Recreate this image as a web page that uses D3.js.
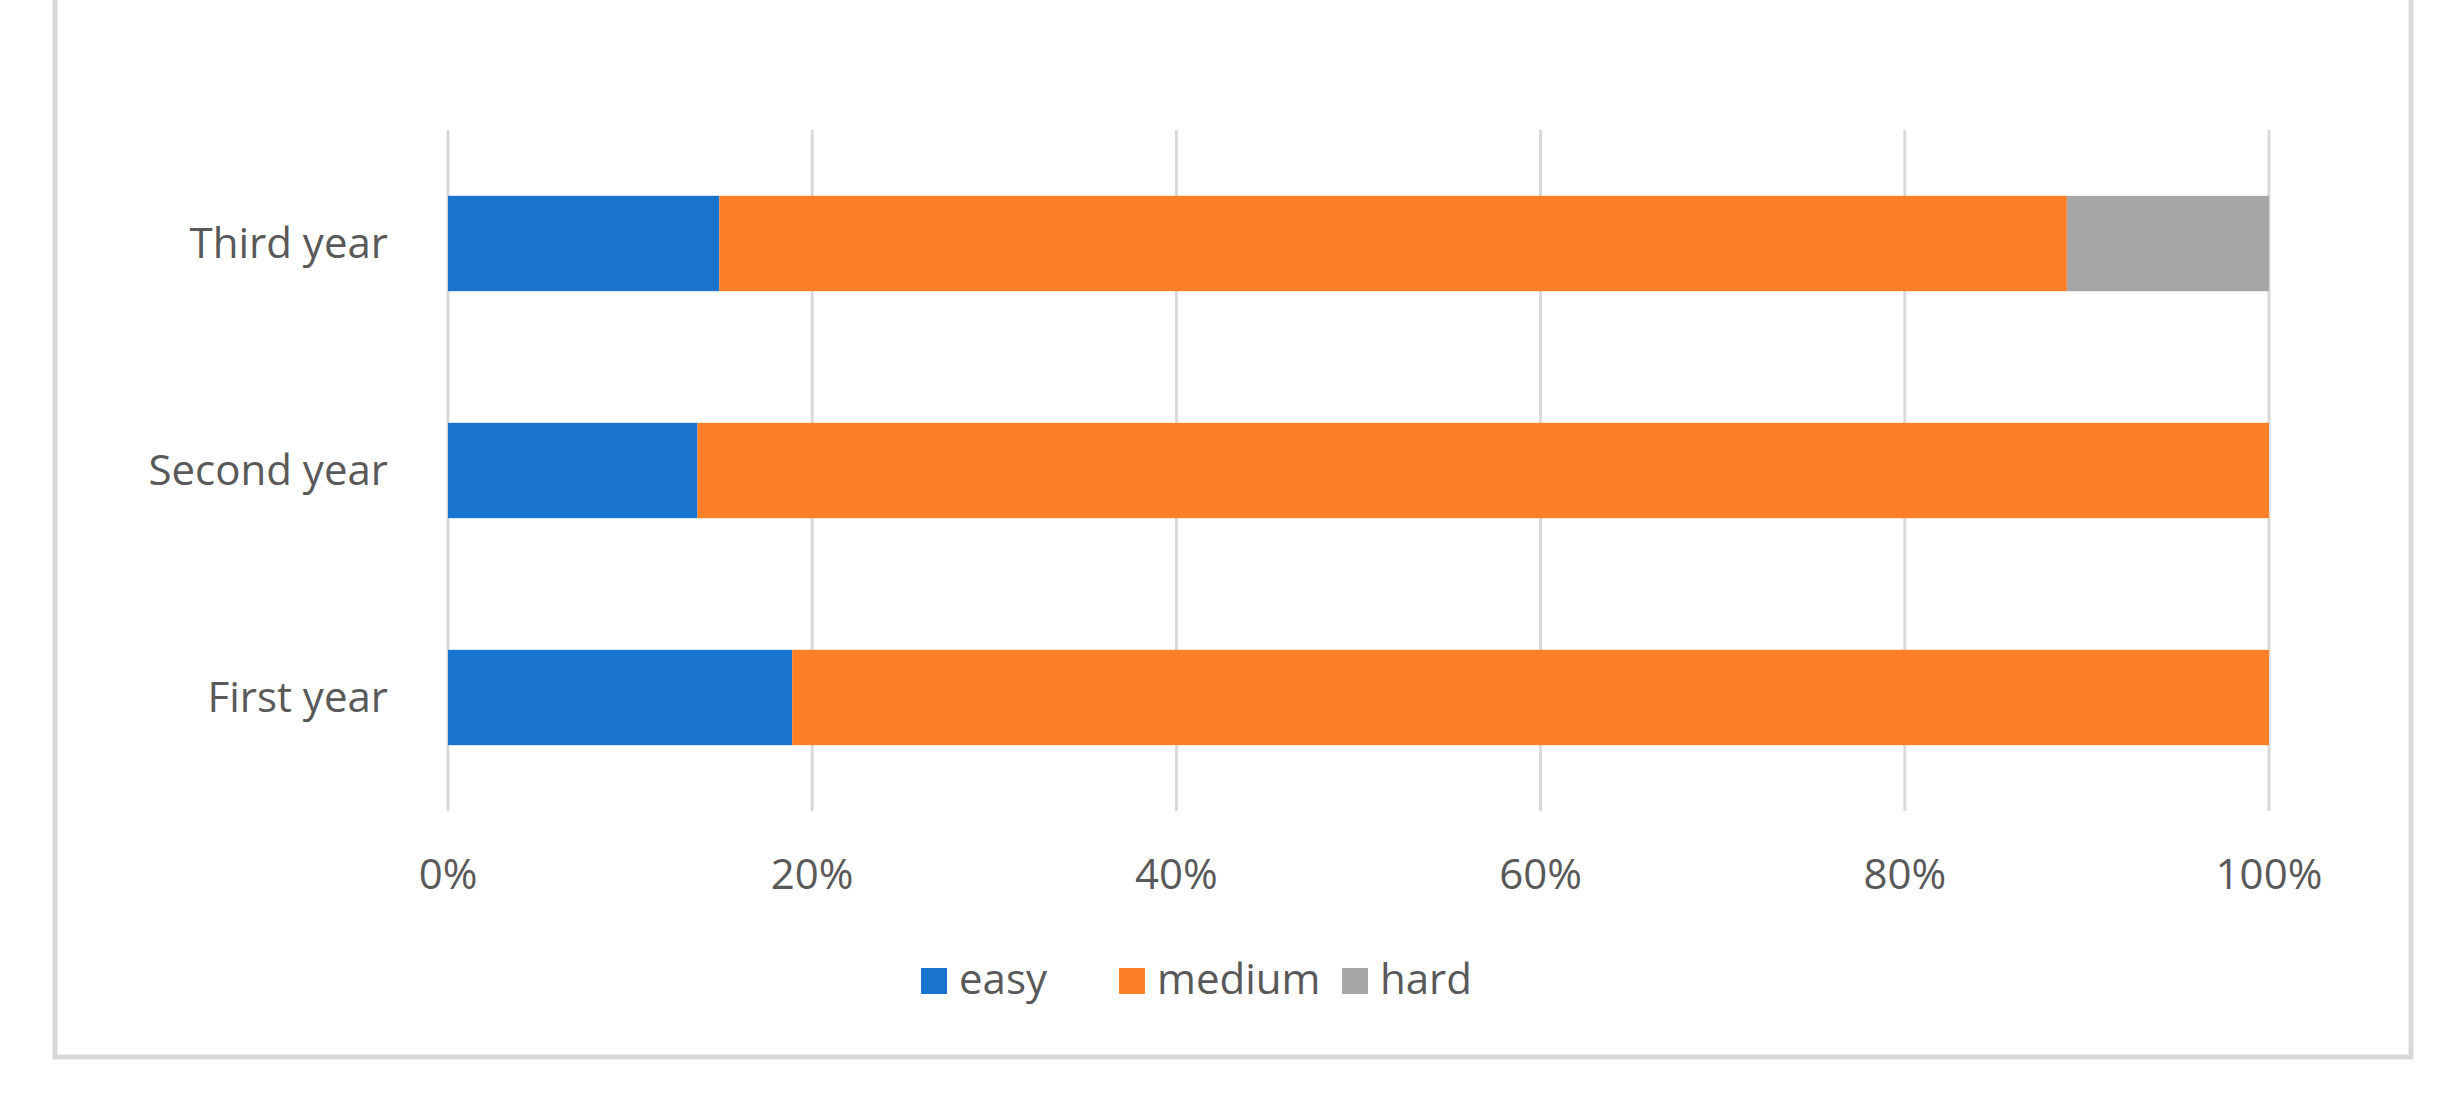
<!DOCTYPE html>
<html><head><meta charset="utf-8">
<script src="https://cdn.jsdelivr.net/npm/d3@7"></script>
<style>body{margin:0;background:#fff}text{font-family:"Liberation Sans Narrow","Open Sans",sans-serif;fill:#595959}</style>
</head><body><svg id="c" width="2447" height="1110"></svg>
<script>
const categories = ['Third year', 'Second year', 'First year'];
const seriesNames = ['easy', 'medium', 'hard'];
const easy = [14.9, 13.7, 18.9];
const medium = [74.0, 86.3, 81.1];
const hard = [11.1, 0, 0];
const tickLabels = [0, 20, 40, 60, 80, 100];
const colors = ['#1874cd', '#ff7f27', '#a6a6a6'];

const svg = d3.select('#c');
svg.append('rect').attr('x', 55).attr('y', -20).attr('width', 2356).attr('height', 1077)
	.attr('fill', 'none').attr('stroke', '#d9d9d9').attr('stroke-width', 5);

const x = d3.scaleLinear().domain([0, 100]).range([448, 2269]);
const y = d3.scaleBand().domain(categories).range([130, 811]).paddingInner(0.58).paddingOuter(0.29);

svg.append('g').selectAll('line').data(tickLabels).enter().append('line')
	.attr('x1', d => x(d)).attr('x2', d => x(d)).attr('y1', 130).attr('y2', 811)
	.attr('stroke', '#d9d9d9').attr('stroke-width', 3);

const rows = categories.map((c, i) => ({cat: c, easy: easy[i], medium: medium[i], hard: hard[i]}));
const stack = d3.stack().keys(seriesNames)(rows);
svg.append('g').selectAll('g').data(stack).enter().append('g')
	.attr('fill', (d, i) => colors[i])
	.selectAll('rect').data(d => d).enter().append('rect')
	.attr('x', d => x(d[0])).attr('width', d => x(d[1]) - x(d[0]))
	.attr('y', d => y(d.data.cat)).attr('height', y.bandwidth());

svg.append('g').selectAll('text').data(categories).enter().append('text')
	.attr('x', 388).attr('y', d => y(d) + y.bandwidth() / 2).attr('dy', '0.35em')
	.attr('text-anchor', 'end').attr('font-size', 42).text(d => d);

svg.append('g').selectAll('text').data(tickLabels).enter().append('text')
	.attr('x', d => x(d)).attr('y', 889).attr('text-anchor', 'middle')
	.attr('font-size', 42).text(d => d + '%');

const legend = svg.append('g').attr('transform', 'translate(921,0)');
const offs = [0, 198, 421];
seriesNames.forEach((n, i) => {
	legend.append('rect').attr('x', offs[i]).attr('y', 968).attr('width', 26).attr('height', 26).attr('fill', colors[i]);
	legend.append('text').attr('x', offs[i] + 38).attr('y', 994).attr('font-size', 42).text(n);
});
</script></body></html>
